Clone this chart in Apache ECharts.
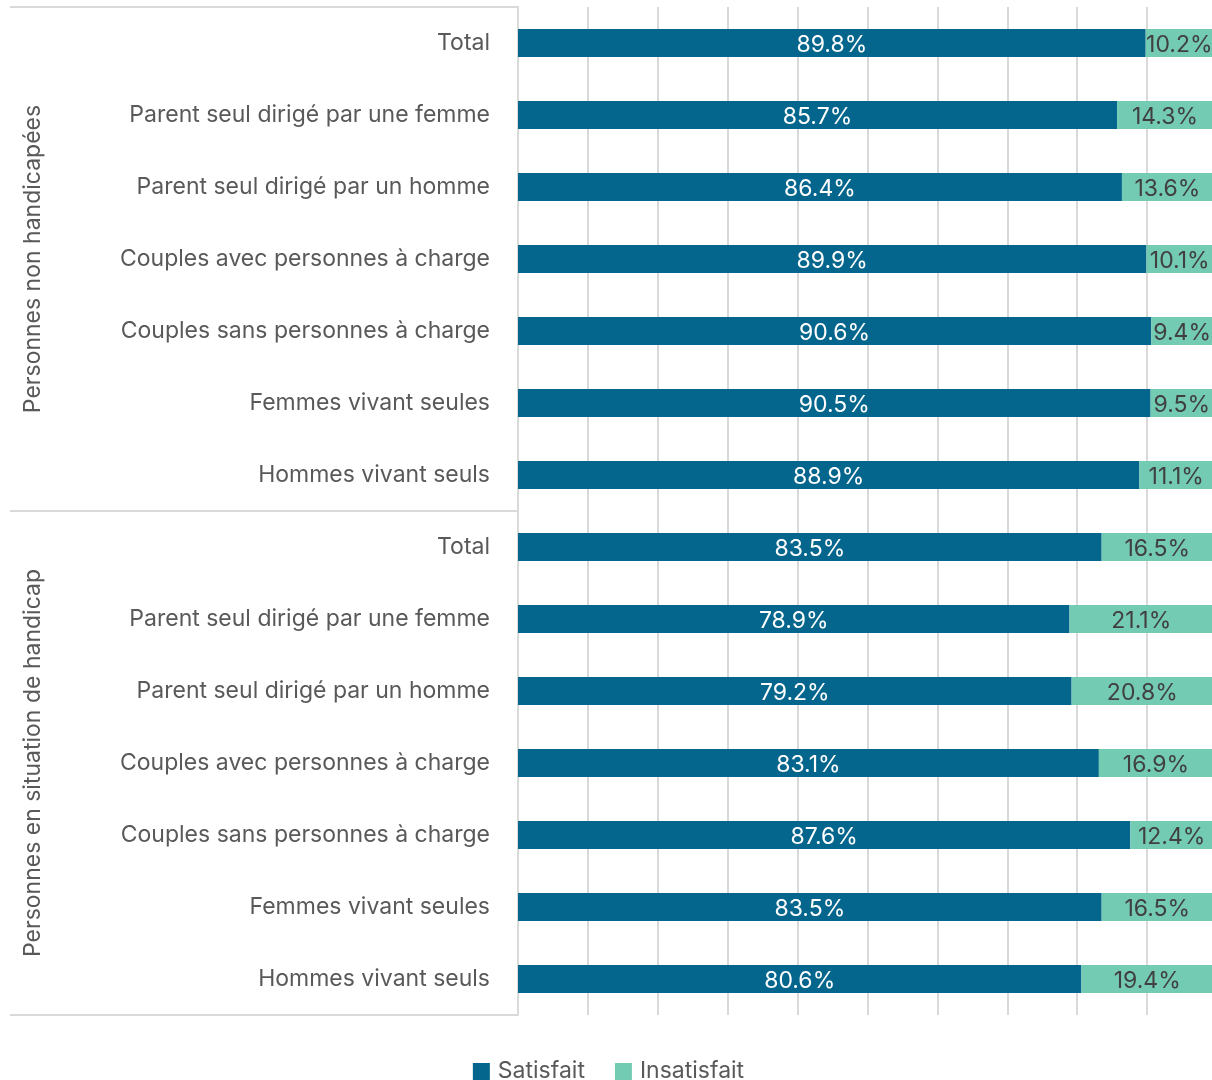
<!DOCTYPE html>
<html><head><meta charset="utf-8">
<script src="https://cdn.jsdelivr.net/npm/echarts@6/dist/echarts.min.js"></script>
<style>html,body{margin:0;padding:0;background:#fff;overflow:hidden}#c{width:1217px;height:1080px}</style>
</head><body><div id="c"></div>
<script>
const categories = [
  'Total','Parent seul dirigé par une femme','Parent seul dirigé par un homme','Couples avec personnes à charge','Couples sans personnes à charge','Femmes vivant seules','Hommes vivant seuls',
  'Total','Parent seul dirigé par une femme','Parent seul dirigé par un homme','Couples avec personnes à charge','Couples sans personnes à charge','Femmes vivant seules','Hommes vivant seuls'
];
const groups = ['Personnes non handicapées','Personnes en situation de handicap'];
const satisfait = [89.8,85.7,86.4,89.9,90.6,90.5,88.9,83.5,78.9,79.2,83.1,87.6,83.5,80.6];
const insatisfait = [10.2,14.3,13.6,10.1,9.4,9.5,11.1,16.5,21.1,20.8,16.9,12.4,16.5,19.4];
const seriesNames = ['Satisfait','Insatisfait'];

const FONT = 'Inter, "Open Sans", sans-serif';
const GRAY = '#d9d9d9';
const keys = categories.map((c,i)=>String(i));
const chart = echarts.init(document.getElementById('c'));
chart.setOption({
  animation:false,
  textStyle:{fontFamily:FONT},
  grid:{left:518,right:0,top:7,bottom:65,containLabel:false},
  xAxis:{type:'value',min:0,max:100,interval:10,axisLabel:{show:false},axisLine:{show:false},axisTick:{show:false},
    splitLine:{lineStyle:{color:GRAY,width:2}}},
  yAxis:[
    {type:'category',data:keys,inverse:true,axisLine:{show:false},axisTick:{show:false},
     axisLabel:{interval:0,formatter:v=>categories[+v],fontSize:23,color:'#595959',margin:28,fontFamily:FONT}},
    {type:'category',data:groups,inverse:true,position:'left',
     axisLine:{show:true,lineStyle:{color:GRAY,width:2}},
     axisTick:{show:true,interval:0,length:508,lineStyle:{color:GRAY,width:2}},
     axisLabel:{interval:0,hideOverlap:false,rotate:90,fontSize:23,color:'#595959',margin:473,fontFamily:FONT}}
  ],
  legend:{bottom:-3,padding:0,left:'center',icon:'rect',itemWidth:17,itemHeight:17,itemGap:30,
    textStyle:{fontSize:23,color:'#595959',fontFamily:FONT,padding:[0,0,0,3]},data:seriesNames},
  series:[
    {name:seriesNames[0],type:'bar',stack:'a',barWidth:28,data:satisfait,itemStyle:{color:'#05668D'},
     label:{show:true,position:'inside',color:'#fff',fontSize:23,fontFamily:FONT,offset:[0,2],formatter:p=>p.value.toFixed(1)+'%'}},
    {name:seriesNames[1],type:'bar',stack:'a',barWidth:28,data:insatisfait,itemStyle:{color:'#74CBB4'},
     label:{show:true,position:'inside',color:'#404040',fontSize:23,fontFamily:FONT,offset:[-2,2],formatter:p=>p.value.toFixed(1)+'%'}}
  ]
});
</script></body></html>
